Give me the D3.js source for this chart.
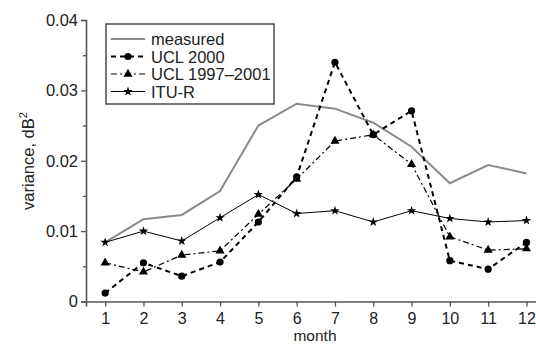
<!DOCTYPE html>
<html>
<head>
<meta charset="utf-8">
<script src="https://cdn.jsdelivr.net/npm/d3@7"></script>
<style>
  body { margin: 0; background: #fff; }
  svg { font-family: "Liberation Sans", Arial, sans-serif; }
</style>
</head>
<body>
<svg id="chart" width="536" height="345"></svg>
<script>
var months = [1, 2, 3, 4, 5, 6, 7, 8, 9, 10, 11, 12];
var measured = [0.0084, 0.0117, 0.0123, 0.0157, 0.0250, 0.0281, 0.0274, 0.0254, 0.0220, 0.0168, 0.0194, 0.0182];
var ucl2000 = [0.0012, 0.0055, 0.0036, 0.0056, 0.0113, 0.0177, 0.0340, 0.0237, 0.0271, 0.0058, 0.0046, 0.0084];
var ucl9701 = [0.0055, 0.0042, 0.0066, 0.0072, 0.0124, 0.0174, 0.0228, 0.0237, 0.0195, 0.0092, 0.0073, 0.0075];
var itur = [0.0084, 0.0100, 0.0086, 0.0119, 0.0152, 0.0125, 0.0129, 0.0113, 0.0129, 0.0118, 0.0113, 0.0115];
var yTicks = [0, 0.01, 0.02, 0.03, 0.04];
var yMinor = [0.005, 0.015, 0.025, 0.035];

var series = [
  { name: 'measured', values: measured, color: '#8a8a8a', width: 2, dash: null, marker: null },
  { name: 'UCL 2000', values: ucl2000, color: '#000', width: 2, dash: '5,4', marker: 'circle' },
  { name: 'UCL 1997\u20132001', values: ucl9701, color: '#000', width: 1.2, dash: '6,3,2,3', marker: 'triangle' },
  { name: 'ITU-R', values: itur, color: '#000', width: 1, dash: null, marker: 'star' }
];

var svg = d3.select('#chart');
var x = d3.scaleLinear().domain([0.5, 12.5]).range([86, 545.6]);
var y = d3.scaleLinear().domain([0, 0.04]).range([301.5, 20]);
var axisColor = '#555';
var textColor = '#222';

// y axis, major and minor ticks
svg.append('g')
  .attr('transform', 'translate(86,0)')
  .call(d3.axisLeft(y).tickValues(yTicks).tickSize(5).tickPadding(3)
    .tickFormat(function(d) { return d === 0 ? '0' : d3.format('.2f')(d); }));
svg.append('g')
  .attr('transform', 'translate(86,0)')
  .call(d3.axisLeft(y).tickValues(yMinor).tickSize(3).tickFormat(''))
  .select('.domain').remove();

// x axis
var xAxis = svg.append('g')
  .attr('transform', 'translate(0,301.5)')
  .call(d3.axisBottom(x).tickValues(months).tickSize(5).tickPadding(6).tickFormat(d3.format('d')));

svg.selectAll('.domain').attr('stroke', axisColor).attr('stroke-width', 1.6);
svg.selectAll('.tick line').attr('stroke', axisColor).attr('stroke-width', 1.3);
svg.selectAll('.tick text').attr('font-size', 16.5).attr('fill', textColor)
  .attr('font-family', '"Liberation Sans", Arial, sans-serif');
xAxis.selectAll('.tick text').attr('font-size', 16);

svg.append('text')
  .attr('x', 315).attr('y', 340.5)
  .attr('text-anchor', 'middle')
  .attr('font-size', 15.5).attr('fill', textColor)
  .text('month');

var yl = svg.append('text')
  .attr('transform', 'translate(34,161) rotate(-90)')
  .attr('text-anchor', 'middle')
  .attr('font-size', 16.5).attr('fill', textColor);
yl.append('tspan').text('variance, dB');
yl.append('tspan').attr('font-size', 11).attr('dy', -7).text('2');

// markers
var starPath = d3.symbol().type(d3.symbolStar).size(28);
var triPath = d3.symbol().type(d3.symbolTriangle).size(36);
function drawMarker(g, type, cx, cy) {
  if (type === 'circle') {
    g.append('circle').attr('cx', cx).attr('cy', cy).attr('r', 3.6).attr('fill', '#000');
  } else if (type === 'triangle') {
    g.append('path').attr('d', triPath()).attr('transform', 'translate(' + cx + ',' + cy + ')').attr('fill', '#000');
  } else if (type === 'star') {
    g.append('path').attr('d', starPath()).attr('transform', 'translate(' + cx + ',' + cy + ')').attr('fill', '#000');
  }
}

var line = d3.line()
  .x(function(d, i) { return x(months[i]); })
  .y(function(d) { return y(d); });

series.forEach(function(s) {
  var g = svg.append('g');
  g.append('path')
    .datum(s.values)
    .attr('d', line)
    .attr('fill', 'none')
    .attr('stroke', s.color)
    .attr('stroke-width', s.width)
    .attr('stroke-dasharray', s.dash);
  if (s.marker) {
    s.values.forEach(function(v, i) { drawMarker(g, s.marker, x(months[i]), y(v)); });
  }
});

// legend
var legend = svg.append('g');
legend.append('rect')
  .attr('x', 106).attr('y', 24).attr('width', 168).attr('height', 80)
  .attr('fill', '#fff').attr('stroke', axisColor).attr('stroke-width', 1.6);
series.forEach(function(s, i) {
  var ly = 39 + i * 17.5;
  var lg = legend.append('g');
  lg.append('line')
    .attr('x1', 111).attr('x2', 145).attr('y1', ly).attr('y2', ly)
    .attr('stroke', s.color).attr('stroke-width', s.width)
    .attr('stroke-dasharray', s.dash);
  if (s.marker) drawMarker(lg, s.marker, 128, ly);
  lg.append('text')
    .attr('x', 151).attr('y', ly + 6)
    .attr('font-size', 16.5).attr('fill', textColor)
    .text(s.name);
});
</script>
</body>
</html>
